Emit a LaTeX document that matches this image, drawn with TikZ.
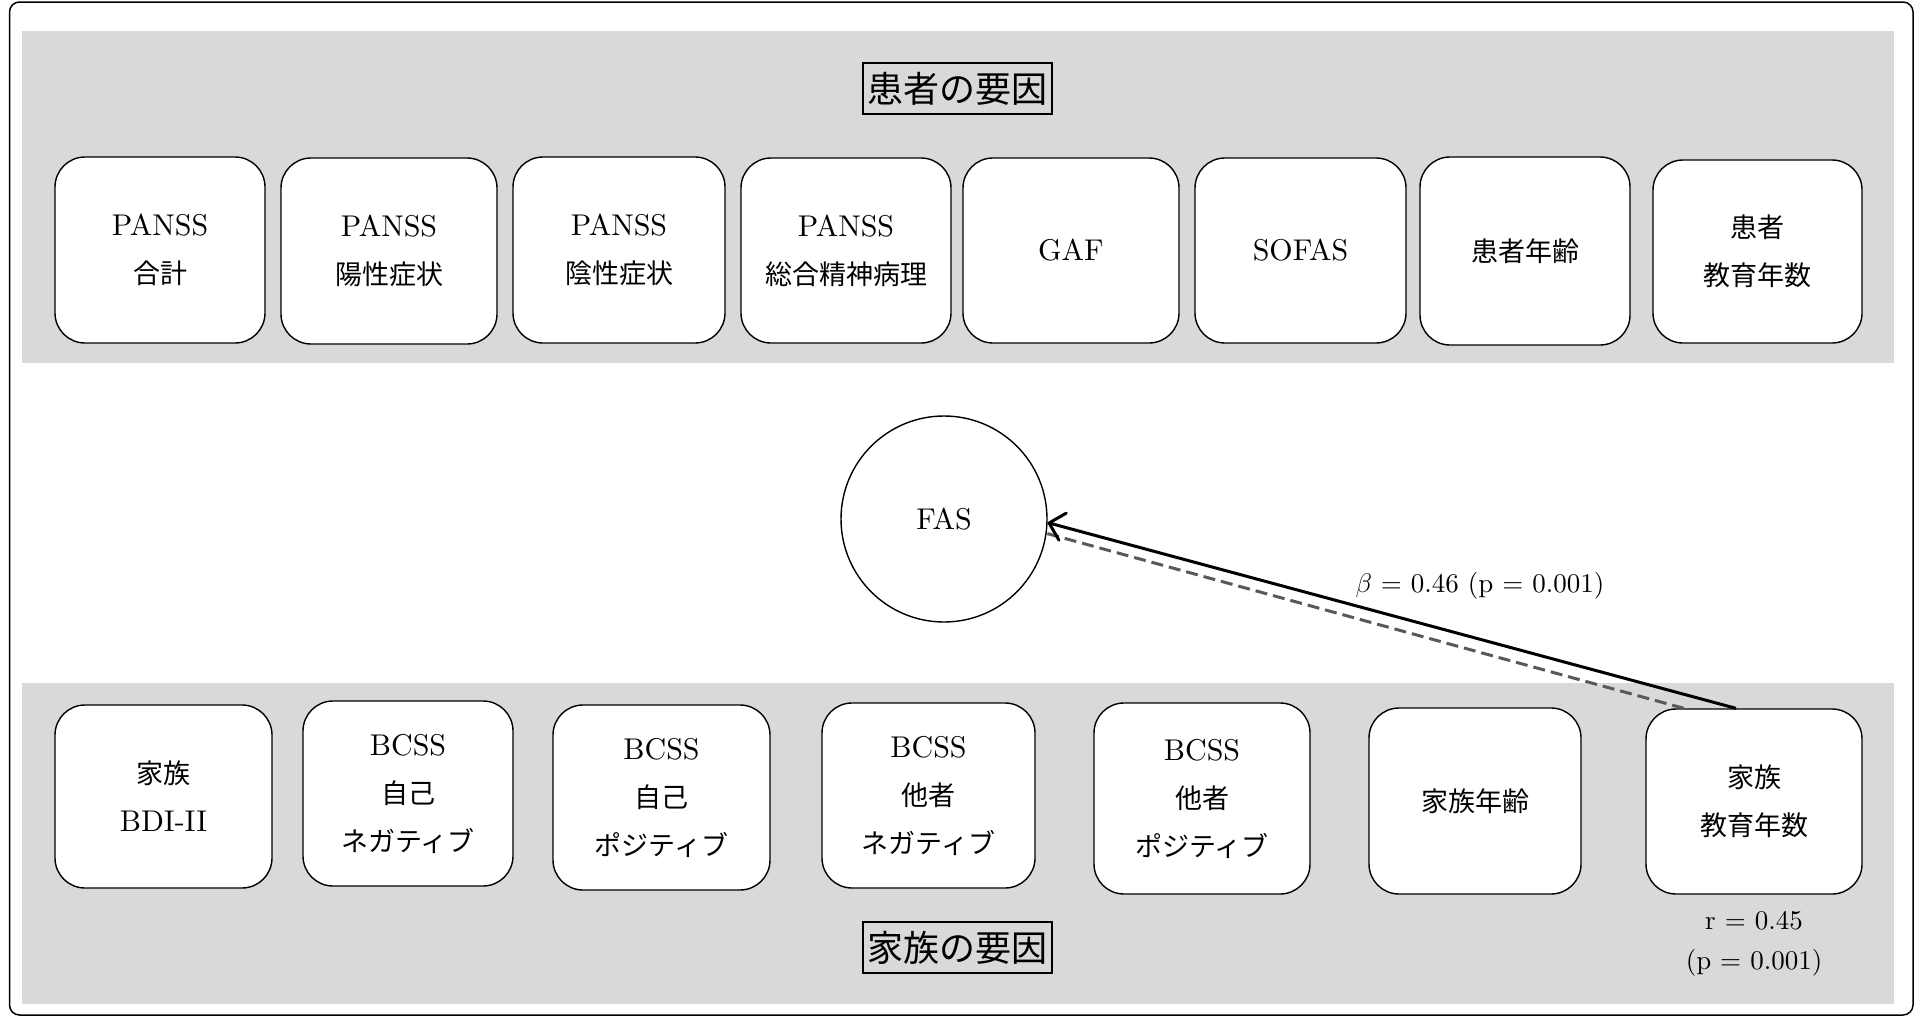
\documentclass[tikz,border=0pt]{standalone}
\usepackage{fix-cm}
\usepackage{fontspec}
\setmainfont{lmroman10-regular.otf}[ItalicFont=lmroman10-italic.otf, BoldFont=lmroman10-bold.otf]
\newfontfamily\jp{Noto Sans CJK JP}[Scale=0.9]
\usetikzlibrary{arrows.meta}
\definecolor{bandgray}{HTML}{D9D9D9}
\definecolor{dashgray}{HTML}{595959}
\begin{document}
\begin{tikzpicture}[x=1pt,y=-1pt,
  varbox/.style={draw, fill=white, rounded corners=30pt, line width=1.4pt, align=center, inner sep=0pt, font=\fontsize{30}{48}\selectfont},
  titlebox/.style={draw, line width=2pt, inner sep=0pt, minimum width=189pt, minimum height=51pt, font=\jp\fontsize{40}{44}\selectfont},
  latent/.style={draw, circle, fill=white, line width=1.4pt, minimum size=206pt, inner sep=0pt, font=\fontsize{30}{48}\selectfont},
  lbl/.style={align=center, inner sep=0pt, font=\fontsize{27}{40}\selectfont},
  sigpath/.style={line width=3pt, -{Straight Barb[length=14pt,width=28pt,line cap=round,line join=round]}},
  corrpath/.style={line width=3pt, dashgray, dash pattern=on 12pt off 6pt}]
\useasboundingbox (0,0) rectangle (1921,1017);
% frame and bands
\draw[line width=1.5pt, rounded corners=10pt] (9.5,2) rectangle (1913,1015);
\fill[bandgray] (22,31) rectangle (1894,363);
\fill[bandgray] (22,683) rectangle (1894,1004);
% titles
\node[titlebox] (ttop) at (957.5,88.5) {患者の要因};
\node[titlebox] (tbot) at (957.5,947.5) {家族の要因};
% patient factors
\node[varbox, minimum width=210pt, minimum height=186pt] (p1) at (160,250) {PANSS\\{\jp 合計}};
\node[varbox, minimum width=216pt, minimum height=186pt] (p2) at (389,251) {PANSS\\{\jp 陽性症状}};
\node[varbox, minimum width=212pt, minimum height=186pt] (p3) at (619,250) {PANSS\\{\jp 陰性症状}};
\node[varbox, minimum width=210pt, minimum height=185pt] (p4) at (846,250.5) {PANSS\\{\jp 総合精神病理}};
\node[varbox, minimum width=216pt, minimum height=185pt] (p5) at (1071,250.5) {GAF};
\node[varbox, minimum width=211pt, minimum height=185pt] (p6) at (1300.5,250.5) {SOFAS};
\node[varbox, minimum width=210pt, minimum height=188pt] (p7) at (1525,251) {{\jp 患者年齢}};
\node[varbox, minimum width=209pt, minimum height=183pt] (p8) at (1757.5,251.5) {{\jp 患者}\\{\jp 教育年数}};
% FAS
\node[latent] (fas) at (944,519) {FAS};
% family factors
\node[varbox, minimum width=217pt, minimum height=183pt] (f1) at (163.5,796.5) {{\jp 家族}\\BDI-II};
\node[varbox, minimum width=210pt, minimum height=185pt] (f2) at (408,793.5) {BCSS\\{\jp 自己}\\{\jp ネガティブ}};
\node[varbox, minimum width=217pt, minimum height=185pt] (f3) at (661.5,797.5) {BCSS\\{\jp 自己}\\{\jp ポジティブ}};
\node[varbox, minimum width=213pt, minimum height=185pt] (f4) at (928.5,795.5) {BCSS\\{\jp 他者}\\{\jp ネガティブ}};
\node[varbox, minimum width=216pt, minimum height=191pt] (f5) at (1202,798.5) {BCSS\\{\jp 他者}\\{\jp ポジティブ}};
\node[varbox, minimum width=212pt, minimum height=186pt] (f6) at (1475,801) {{\jp 家族年齢}};
\node[varbox, minimum width=216pt, minimum height=185pt] (f7) at (1754,801.5) {{\jp 家族}\\{\jp 教育年数}};
% paths
\draw[corrpath] (f7.127.5) -- (fas.-8);
\draw[sigpath] (f7.101.6) -- (fas.-2);
\node[lbl] (beta) at (1480,586) {$\beta$ = 0.46 (p = 0.001)};
\node[lbl] (rlab) at (1754,944) {r = 0.45\\(p = 0.001)};
\end{tikzpicture}
\end{document}
